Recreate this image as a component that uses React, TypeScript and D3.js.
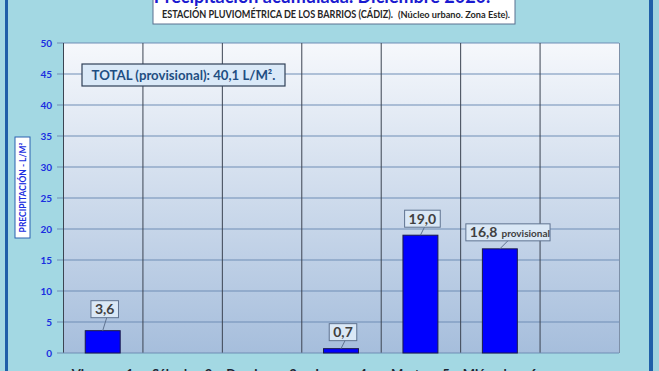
import React, { useEffect, useRef } from 'react';
import * as d3 from 'd3';

// chart data
const categories = ['Viernes 1', 'Sábado 2', 'Domingo 3', 'Lunes 4', 'Martes 5', 'Miércoles 6', ''];
const rainfall = [3.6, 0, 0, 0.7, 19.0, 16.8, 0];
const valueLabels = ['3,6', '', '', '0,7', '19,0', '16,8', ''];
const labelSuffix = ['', '', '', '', '', 'provisional', ''];
const yTicks = [0, 5, 10, 15, 20, 25, 30, 35, 40, 45, 50];

const title = 'Precipitación acumulada. Diciembre 2020.';
const subtitle = 'ESTACIÓN PLUVIOMÉTRICA DE LOS BARRIOS (CÁDIZ).';
const subtitle2 = '(Núcleo urbano. Zona Este).';
const totalText = 'TOTAL (provisional): 40,1 L/M².';
const yTitle = 'PRECIPITACIÓN - L/M²';

const App = () => {
  const chartRef = useRef<SVGSVGElement | null>(null);

  useEffect(() => {
    const svg = d3.select(chartRef.current);
    svg.selectAll('*').remove();

    const width = 659;
    const height = 371;
    const margin = { top: 43, right: 40, bottom: 18, left: 63 };
    const font = 'Lato, "Open Sans", sans-serif';

    const defs = svg.append('defs');
    const grad = defs.append('linearGradient')
      .attr('id', 'plotGrad').attr('x1', 0).attr('y1', 0).attr('x2', 0).attr('y2', 1);
    grad.append('stop').attr('offset', '0%').attr('stop-color', '#f6f8fc');
    grad.append('stop').attr('offset', '100%').attr('stop-color', '#a6bedc');

    // background
    svg.append('rect').attr('width', width).attr('height', height).attr('fill', '#a3d8e3');
    svg.append('rect').attr('x', 5).attr('y', 0).attr('width', 3).attr('height', height).attr('fill', '#1f5fa8');
    svg.append('rect').attr('x', 649).attr('y', 0).attr('width', 4).attr('height', height).attr('fill', '#1f5fa8');
    svg.append('rect').attr('x', 653).attr('y', 0).attr('width', 6).attr('height', height).attr('fill', '#9fd3df');

    const x = d3.scaleBand<string>()
      .domain(categories.map((c, i) => String(i)))
      .range([margin.left, width - margin.right])
      .padding(0);

    const y = d3.scaleLinear()
      .domain([0, 50])
      .range([height - margin.bottom, margin.top]);

    const plotW = width - margin.right - margin.left;
    const plotH = height - margin.bottom - margin.top;

    svg.append('rect')
      .attr('x', margin.left).attr('y', margin.top)
      .attr('width', plotW).attr('height', plotH)
      .attr('fill', 'url(#plotGrad)');

    // horizontal grid
    svg.append('g')
      .selectAll('line')
      .data(yTicks.slice(1))
      .enter().append('line')
      .attr('x1', margin.left - 6).attr('x2', width - margin.right)
      .attr('y1', d => y(d)).attr('y2', d => y(d))
      .attr('stroke', '#6f8db5').attr('stroke-width', 1);

    // vertical separators
    svg.append('g')
      .selectAll('line')
      .data(categories.map((c, i) => i).concat([categories.length]))
      .enter().append('line')
      .attr('x1', i => (i < categories.length ? x(String(i))! : width - margin.right) + 0.5)
      .attr('x2', i => (i < categories.length ? x(String(i))! : width - margin.right) + 0.5)
      .attr('y1', margin.top).attr('y2', height - margin.bottom)
      .attr('stroke', i => (i === categories.length ? '#7d90a8' : '#3c4452'))
      .attr('stroke-width', 1);

    svg.append('line')
      .attr('x1', margin.left - 6).attr('x2', width - margin.right)
      .attr('y1', y(0)).attr('y2', y(0))
      .attr('stroke', '#6f8db5');

    // y axis labels
    svg.append('g')
      .selectAll('text')
      .data(yTicks)
      .enter().append('text')
      .attr('x', 52).attr('y', d => y(d) + 3.5)
      .attr('text-anchor', 'end')
      .attr('font-family', font).attr('font-weight', 'bold').attr('font-size', 10)
      .attr('fill', '#1a2ee0')
      .text(d => d);

    // bars
    const bw = x.bandwidth() * 0.44;
    const barX = (i: number) => x(String(i))! + (x.bandwidth() - bw) / 2;
    svg.append('g')
      .selectAll('rect')
      .data(rainfall.map((v, i) => ({ v, i })).filter(d => d.v > 0))
      .enter().append('rect')
      .attr('x', d => barX(d.i))
      .attr('y', d => y(d.v))
      .attr('width', bw)
      .attr('height', d => y(0) - y(d.v))
      .attr('fill', '#0000ff')
      .attr('stroke', '#1a1a4a').attr('stroke-width', 1);

    // value labels
    rainfall.forEach((v, i) => {
      if (!valueLabels[i]) return;
      const cx = barX(i) + bw / 2;
      const g = svg.append('g');
      const t = g.append('text')
        .attr('font-family', font).attr('font-weight', 'bold')
        .attr('font-size', 14).attr('fill', '#404040');
      t.append('tspan').text(valueLabels[i]);
      if (labelSuffix[i]) {
        t.append('tspan').attr('font-size', 10).attr('dx', 4).text(labelSuffix[i]);
      }
      const w = (t.node() as SVGTextElement).getComputedTextLength();
      const boxH = 17;
      const gap = i === 0 ? 13 : 8;
      const boxBottom = y(v) - gap;
      const shift = labelSuffix[i] ? w / 2 - 30 : 2;
      const bx = cx + shift - w / 2 - 4;
      g.insert('rect', 'text')
        .attr('x', bx).attr('y', boxBottom - boxH)
        .attr('width', w + 8).attr('height', boxH)
        .attr('fill', '#dae8f6').attr('stroke', '#5f7390').attr('stroke-width', 1);
      t.attr('x', bx + 4).attr('y', boxBottom - 3.5);
      g.append('line')
        .attr('x1', cx + (labelSuffix[i] ? 8 : 4)).attr('y1', boxBottom)
        .attr('x2', cx).attr('y2', y(v))
        .attr('stroke', '#5f7390').attr('stroke-width', 1);
    });

    // total box
    svg.append('rect')
      .attr('x', 82).attr('y', 64).attr('width', 203).attr('height', 22)
      .attr('fill', '#dae9f8').attr('stroke', '#2f4058').attr('stroke-width', 1.2);
    svg.append('text')
      .attr('x', 183.5).attr('y', 80)
      .attr('text-anchor', 'middle')
      .attr('font-family', font).attr('font-weight', 'bold').attr('font-size', 13.2)
      .attr('fill', '#1f4e82')
      .text(totalText);

    // x labels (cut by the bottom edge, as in the source)
    svg.append('g')
      .selectAll('text')
      .data(categories)
      .enter().append('text')
      .attr('x', (d, i) => x(String(i))! + x.bandwidth() / 2)
      .attr('y', 379)
      .attr('text-anchor', 'middle')
      .attr('font-family', font).attr('font-weight', 'bold').attr('font-size', 13)
      .attr('fill', '#1c2230')
      .attr('word-spacing', 7)
      .text(d => d);

    // y title
    svg.append('rect')
      .attr('x', 15).attr('y', 137).attr('width', 15).attr('height', 101)
      .attr('fill', '#ffffff').attr('stroke', '#2a60b0').attr('stroke-width', 1);
    svg.append('text')
      .attr('transform', 'translate(26,187.5) rotate(-90)')
      .attr('text-anchor', 'middle')
      .attr('font-family', font).attr('font-weight', 'bold').attr('font-size', 8.5)
      .attr('fill', '#1a2ee0')
      .text(yTitle);

    // title box
    svg.append('rect')
      .attr('x', 153).attr('y', -10).attr('width', 362).attr('height', 34)
      .attr('fill', '#ffffff').attr('stroke', '#5a7090').attr('stroke-width', 1);
    svg.append('text')
      .attr('x', 322).attr('y', 2.5)
      .attr('text-anchor', 'middle')
      .attr('font-family', font).attr('font-weight', 'bold').attr('font-size', 18)
      .attr('fill', '#1a1ad0')
      .text(title);
    svg.append('text')
      .attr('x', 162).attr('y', 18)
      .attr('font-family', font).attr('font-weight', 'bold').attr('font-size', 10.5)
      .attr('fill', '#262626')
      .attr('textLength', 231).attr('lengthAdjust', 'spacingAndGlyphs')
      .text(subtitle);
    svg.append('text')
      .attr('x', 398).attr('y', 18)
      .attr('font-family', font).attr('font-weight', 'bold').attr('font-size', 8.5)
      .attr('fill', '#262626')
      .attr('textLength', 112).attr('lengthAdjust', 'spacingAndGlyphs')
      .text(subtitle2);
  }, []);

  return (
    <svg ref={chartRef} width={659} height={371}
      style={{ position: 'absolute', left: 0, top: 0, display: 'block' }} />
  );
};

export default App;
